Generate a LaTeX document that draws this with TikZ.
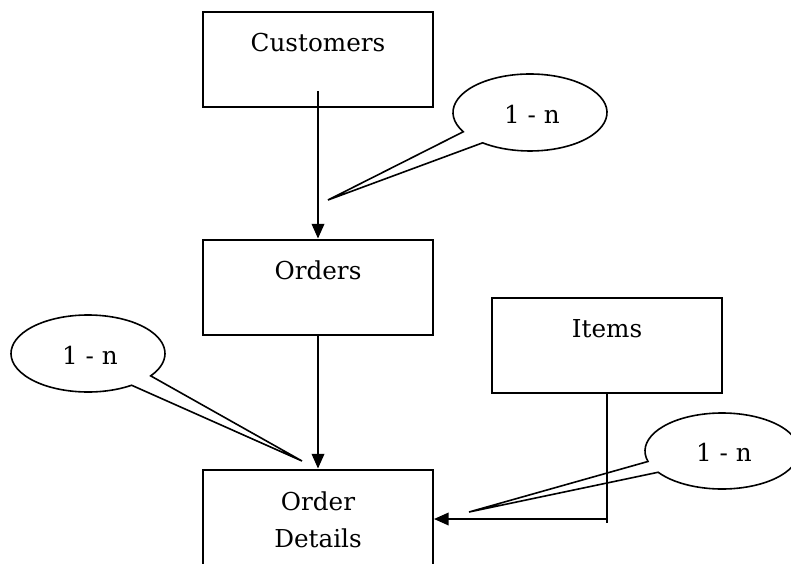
\documentclass[tikz,border=0pt]{standalone}
\usepackage{fontspec}
\setmainfont{DejaVu Serif}
\usetikzlibrary{arrows.meta,calc}
\begin{document}
\begin{tikzpicture}[x=0.75pt,y=-0.75pt,
  box/.style={draw,line width=1.5pt,minimum width=172.5pt,minimum height=71.25pt,inner sep=0pt},
  lbl/.style={anchor=base,inner sep=0pt,align=center,font=\fontsize{18.5}{27.75}\selectfont},
  link/.style={line width=1.2pt},
  arr/.style={link,-{Triangle[length=11pt,width=9.5pt]}},
  callout/.style={draw,line width=1.2pt,line join=miter}]
\useasboundingbox (0,0) rectangle (791,563);

% entity boxes
\node[box] (cust)   at (318,59.5) {};
\node[box] (orders) at (318,287)  {};
\node[box] (items)  at (607,345)  {};
\node[box] (od)     at (318,517)  {};

% entity names
\node[lbl] (custname)   at (318,52)  {Customers};
\node[lbl] (ordersname) at (318,279) {Orders};
\node[lbl] (itemsname)  at (607,337) {Items};
\node[lbl] (odname)     at (318,547) {Order\\Details};

% cardinality callouts: ellipse centre, tail tip, label
\coordinate (e1) at (530,112.5);
\coordinate (t1) at (328,200);
\coordinate (e2) at (88,353.5);
\coordinate (t2) at (302,461);
\coordinate (e3) at (722,451);
\coordinate (t3) at (469,512);

\draw[callout] ($(e1)+(150:77 and 38.5)$)
  arc[start angle=150,end angle=488,x radius=77,y radius=38.5] -- (t1) -- cycle;
\draw[callout] ($(e2)+(55.5:77 and 38.5)$)
  arc[start angle=55.5,end angle=395.5,x radius=77,y radius=38.5] -- (t2) -- cycle;
\draw[callout] ($(e3)+(164:77 and 38)$)
  arc[start angle=164,end angle=506,x radius=77,y radius=38] -- (t3) -- cycle;

\node[lbl] (card1) at (532,123) {1 - n};
\node[lbl] (card2) at (90,364)  {1 - n};
\node[lbl] (card3) at (724,461) {1 - n};

% relationships
\coordinate (cstart) at (318,91);
\draw[arr] (cstart) -- (orders.north);
\draw[arr] (orders.south) -- (od.north);

\coordinate (iend) at (607,523);
\coordinate (ijoin) at (607,519);
\draw[link] (items.south) -- (iend);
\draw[arr] (ijoin) -- (ijoin -| od.east);
\end{tikzpicture}
\end{document}
